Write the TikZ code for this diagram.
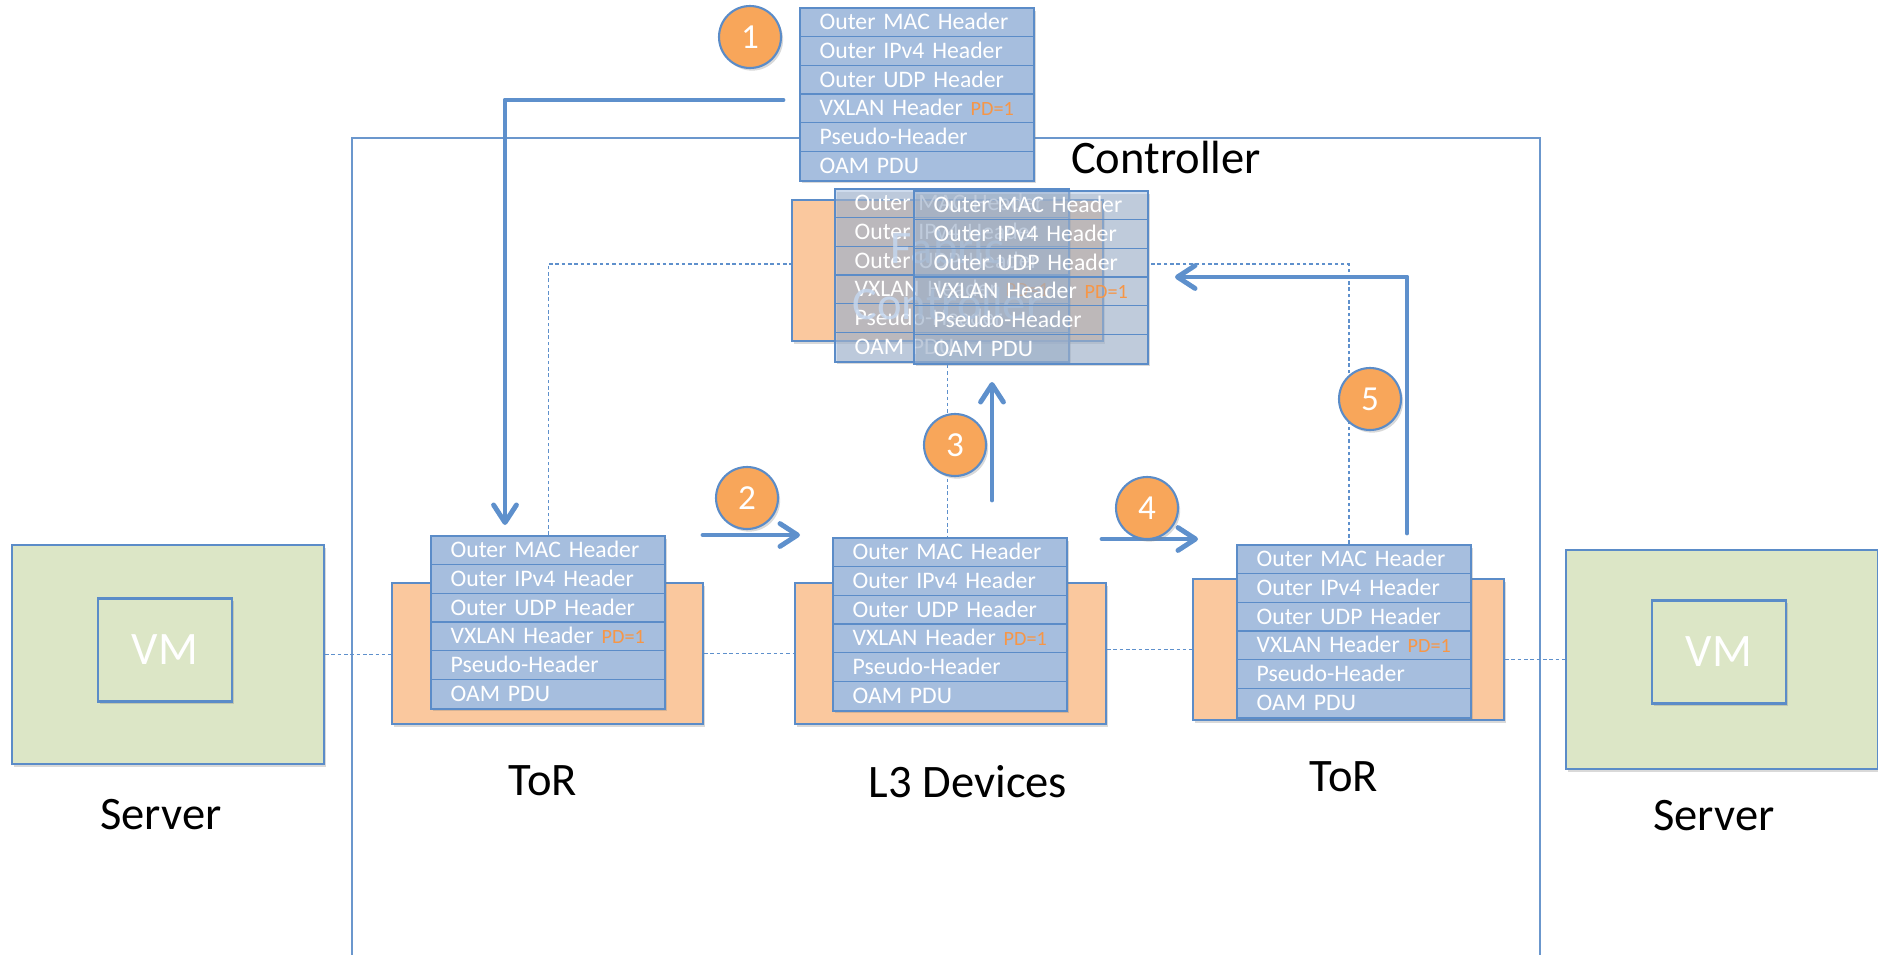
\documentclass[tikz,border=0pt]{standalone}
\usepackage{fontspec}
\setmainfont{Carlito}
\usetikzlibrary{arrows.meta,calc,shadows,positioning}

\definecolor{pktfill}{HTML}{A6BEDE}
\definecolor{pktline}{HTML}{5B8CC8}
\definecolor{devorange}{HTML}{FAC89E}
\definecolor{srvgreen}{HTML}{DCE6C6}
\definecolor{steporange}{HTML}{F8A65A}
\definecolor{pdorange}{HTML}{F79646}
\definecolor{flowblue}{HTML}{5E90CC}
\definecolor{fabtext}{HTML}{C4D6EE}

\newcommand{\pktfont}{\fontsize{13.5}{16}\selectfont}
\newcommand{\pdfont}{\fontsize{11.5}{14}\selectfont}
\newcommand{\bigfont}{\fontsize{26.5}{32}\selectfont}
\newcommand{\numfont}{\fontsize{20}{24}\selectfont}
\newcommand{\pdtag}{{\pdfont\color{pdorange}PD=1}}

\tikzset{
  softshadow/.style={drop shadow={shadow xshift=1.2pt,shadow yshift=-1.5pt,opacity=0.3,fill=black!50}},
  pktbox/.style={draw=pktline,line width=1.2pt,fill=pktfill,anchor=north west,inner sep=0pt,
    minimum width=4.68cm,minimum height=3.456cm,softshadow},
  pktrow/.style={draw=pktline,line width=0.7pt,anchor=north west,inner xsep=0.4cm,inner ysep=0pt,
    text width=3.88cm,minimum height=0.576cm,text height=12.4pt,text depth=4pt,align=left,
    text=white,font=\pktfont},
  devbox/.style={draw=pktline,line width=1.2pt,fill=devorange,anchor=north west,
    minimum width=6.22cm,minimum height=2.82cm,inner sep=0pt,softshadow},
  srvbox/.style={draw=pktline,line width=1.2pt,fill=srvgreen,anchor=north west,
    minimum width=6.24cm,minimum height=4.38cm,inner sep=0pt,softshadow},
  vmbox/.style={draw=pktline,line width=1.2pt,fill=srvgreen,minimum width=2.68cm,
    minimum height=2.06cm,text=white,font=\bigfont,softshadow},
  ctrlframe/.style={draw=pktline!90,line width=1.1pt,anchor=north west,
    minimum width=23.76cm,minimum height=17cm},
  biglbl/.style={font=\bigfont,inner sep=0pt},
  stepnum/.style={circle,draw=pktline,line width=1.2pt,fill=steporange,minimum size=1.24cm,
    inner sep=0pt,text=white,font=\numfont,softshadow},
  flow/.style={draw=flowblue,line width=2.8pt,line cap=round,line join=round,
    -{Straight Barb[length=10pt,width=13pt,round]}},
  link/.style={draw=flowblue,line width=0.6pt,dash pattern=on 2pt off 1.6pt},
}

% a packet: six header rows stacked under a box
\newcommand{\packet}[3][]{%
  \node[pktbox,#1] (#2) at (#3) {};
  \foreach \rowtxt [count=\i] in {Outer MAC Header,Outer IPv4 Header,Outer UDP Header,
      {VXLAN Header \pdtag},Pseudo-Header,OAM PDU}
    \node[pktrow] (#2-\i) at ($(#2.north west)+(0,{(\i-1)*28.8})$) {\mbox{\rowtxt}};
}

\begin{document}
\begin{tikzpicture}[x=0.02cm,y=-0.02cm]
  \useasboundingbox (0,0) rectangle (1878,954);

  % controller frame
  \node[ctrlframe] (ctrl) at (351,137) {};
  \node[biglbl] (ctrllbl) at (1166,157) {Controller};

  % servers
  \node[srvbox] (srvL) at (11,544) {};
  \node[vmbox] (vmL) at (165,650) {VM};
  \node[srvbox] (srvR) at (1565,549) {};
  \node[vmbox] (vmR) at (1719,652) {VM};
  \node[biglbl] (srvLlbl) at (161,815) {Server};
  \node[biglbl] (srvRlbl) at (1714,816) {Server};

  % devices
  \node[devbox] (torL) at (391,582) {};
  \node[devbox] (l3) at (794,582) {};
  \node[devbox] (torR) at (1192,578) {};
  \node[devbox] (fab) at (791,199) {};
  \node[biglbl] (torLlbl) at (543,781) {ToR};
  \node[biglbl] (l3lbl) at (968,782) {L3 Devices};
  \node[biglbl] (torRlbl) at (1344,777) {ToR};

  % dotted links
  \draw[link] (srvL.east) -- (srvL.east -| torL.west);
  \draw[link] (torL.east) -- (torL.east -| l3.west);
  \draw[link] (l3.east |- torR.west) -- (torR.west);
  \draw[link] (torR.east |- srvR.west) -- (srvR.west);

  % packets
  \packet{pkT}{799,7}
  \packet{pkL}{430,535}
  \packet{pkM}{832,537}
  \packet{pkR}{1236,544}
  \packet[fill opacity=0.55]{pkA}{834,188}
  \node[biglbl,text=fabtext,text opacity=0.85,align=center] (fablbl) at ([yshift=-0.1cm]fab.center)
    {Fabric\\Controller};
  \packet[fill opacity=0.5]{pkB}{913,190}

  \coordinate (dR) at (1349,264);
  \draw[link] (pkL.north) |- (fab.west |- dR);
  \draw[link] (pkR.north -| dR) -- (dR) -- (dR -| pkB.east);
  \draw[link] (fab.center |- pkB.south) -- (fab.center |- pkM.north);

  % steps
  \coordinate (a1s) at (783,100);
  \coordinate (a1e) at (505,525);
  \coordinate (a2s) at (703,535);
  \coordinate (a2e) at (800,535);
  \coordinate (a3s) at (992,500);
  \coordinate (a3e) at (992,382);
  \coordinate (a4s) at (1102,539);
  \coordinate (a4e) at (1198,539);
  \coordinate (a5s) at (1407,533);
  \coordinate (a5e) at (1175,277);
  \draw[flow] (a1s) -| (a1e);
  \draw[flow] (a2s) -- (a2e);
  \draw[flow] (a3s) -- (a3e);
  \draw[flow] (a4s) -- (a4e);
  \draw[flow] (a5s) |- (a5e);

  \node[stepnum] (s1) at (750,37) {1};
  \node[stepnum] (s2) at (747,498) {2};
  \node[stepnum] (s3) at (955,445) {3};
  \node[stepnum] (s4) at (1147,508) {4};
  \node[stepnum] (s5) at (1370,399) {5};
\end{tikzpicture}
\end{document}
